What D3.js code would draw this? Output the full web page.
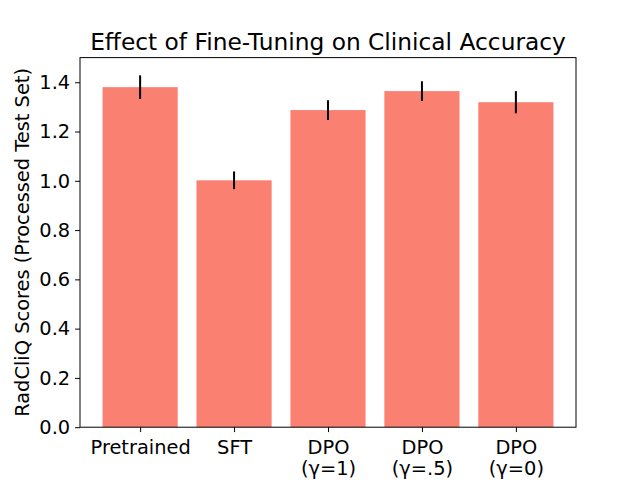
<!DOCTYPE html>
<html lang="en">
<head>
<meta charset="utf-8">
<title>Effect of Fine-Tuning on Clinical Accuracy</title>
<script src="https://cdn.jsdelivr.net/npm/d3@7"></script>
<style>
  body { margin: 0; background: #fff; }
  text { font-family: "DejaVu Sans", sans-serif; fill: #000; }
</style>
</head>
<body>
<div id="chart"></div>
<script>
// data
const categories = ["Pretrained", "SFT", "DPO\n(\u03b3=1)", "DPO\n(\u03b3=.5)", "DPO\n(\u03b3=0)"];
const scores = [1.380, 1.002, 1.287, 1.364, 1.319];
const errors = [0.048, 0.036, 0.040, 0.040, 0.045];
const yTicks = [0.0, 0.2, 0.4, 0.6, 0.8, 1.0, 1.2, 1.4];

const width = 640, height = 480;
const margin = {left: 80, right: 64, top: 57.6, bottom: 52.8};
const iw = width - margin.left - margin.right;
const ih = height - margin.top - margin.bottom;

const svg = d3.select("#chart").append("svg")
  .attr("width", width).attr("height", height);

const g = svg.append("g").attr("transform", `translate(${margin.left},${margin.top})`);

// matplotlib-like linear x: bars at 0..n-1, width .8, 5% margins
const n = categories.length;
const x = d3.scaleLinear().domain([-0.4 - 0.24, n - 1 + 0.4 + 0.24]).range([0, iw]);
const y = d3.scaleLinear().domain([0, 1.5]).range([ih, 0]);
const bw = x(0.8) - x(0);

g.selectAll("rect.bar")
  .data(scores)
  .join("rect")
  .attr("class", "bar")
  .attr("x", (d, i) => x(i - 0.4))
  .attr("y", d => y(d))
  .attr("width", bw)
  .attr("height", d => ih - y(d))
  .attr("fill", "salmon");

g.selectAll("line.err")
  .data(scores)
  .join("line")
  .attr("class", "err")
  .attr("x1", (d, i) => x(i)).attr("x2", (d, i) => x(i))
  .attr("y1", (d, i) => y(d - errors[i]))
  .attr("y2", (d, i) => y(d + errors[i]))
  .attr("stroke", "#000")
  .attr("stroke-width", 2);

// y axis
const yAxis = g.append("g")
  .call(d3.axisLeft(y).tickValues(yTicks).tickFormat(d3.format(".1f")).tickSize(4.9).tickPadding(4.9));
yAxis.select(".domain").remove();
yAxis.selectAll("line").attr("stroke", "#000").attr("stroke-width", 1);
yAxis.selectAll("text").attr("font-size", "19.4px").attr("font-family", "DejaVu Sans");

// x axis
const xAxis = g.append("g").attr("transform", `translate(0,${ih})`)
  .call(d3.axisBottom(x).tickValues(d3.range(n)).tickFormat("").tickSize(4.9));
xAxis.select(".domain").remove();
xAxis.selectAll("line").attr("stroke", "#000").attr("stroke-width", 1);

xAxis.selectAll(".tick").each(function(d, i) {
  const lines = categories[i].split("\n");
  const t = d3.select(this).append("text")
    .attr("text-anchor", "middle")
    .attr("font-size", "19.4px")
    .attr("y", 8.4)
    .attr("fill", "#000");
  lines.forEach((s, k) => {
    t.append("tspan").attr("x", 0).attr("dy", k === 0 ? "0.93em" : "1.11em").text(s);
  });
});

// frame
g.append("rect")
  .attr("width", iw).attr("height", ih)
  .attr("fill", "none").attr("stroke", "#000").attr("stroke-width", 1);

// title
svg.append("text")
  .attr("x", margin.left + iw / 2).attr("y", margin.top - 8)
  .attr("text-anchor", "middle")
  .attr("font-size", "23.3px")
  .text("Effect of Fine-Tuning on Clinical Accuracy");

// y label
svg.append("text")
  .attr("transform", `translate(29,${margin.top + ih / 2}) rotate(-90)`)
  .attr("text-anchor", "middle")
  .attr("font-size", "19.4px")
  .text("RadCliQ Scores (Processed Test Set)");
</script>
</body>
</html>
